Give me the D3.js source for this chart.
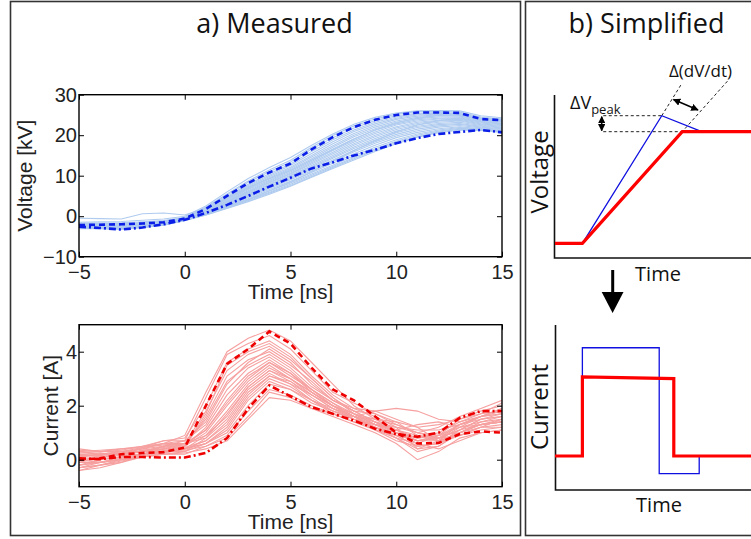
<!DOCTYPE html>
<html><head><meta charset="utf-8">
<script src="https://cdn.jsdelivr.net/npm/d3@7"></script>
<style>
body{margin:0;background:#fff;}
svg{display:block;}
.tick text{font-family:"Liberation Sans",Arial,sans-serif;font-size:20px;fill:#222;}
.domain{display:none;}
.tick line{stroke:#000;stroke-width:1;}
</style></head>
<body><svg id="c" width="751" height="539"></svg>
<script>
// ---------------- DATA ----------------
const time = [-5,-4,-3,-2,-1,0,1,2,3,4,5,6,7,8,9,10,11,12,13,14,15];
const timeTicks = [-5,0,5,10,15];
const voltTicks = [-10,0,10,20,30];
const currTicks = [0,2,4];

const voltUpper = [-2.2,-2.1,-2.0,-1.8,-1.5,-0.6,1.8,5.0,8.2,10.8,13.0,16.5,19.5,22.0,23.8,25.0,25.6,25.6,25.5,24.0,23.7];
const voltLower = [-2.6,-2.9,-3.3,-2.8,-2.0,-0.9,0.8,2.8,5.0,7.3,9.5,11.8,13.3,15.0,16.4,18.0,19.3,20.3,20.8,21.3,20.7];
const voltRuns = [
 [-1.5,-1.4,-1.3,-1.0,-0.7,0.0,2.5,6.0,9.3,12.0,14.5,17.5,20.3,22.7,24.4,25.5,26.0,26.1,26.0,24.8,24.3],
 [-1.8,-1.7,-1.6,-1.4,-1.1,-0.3,2.2,5.5,8.7,11.4,13.8,17.0,19.9,22.3,24.0,25.2,25.8,25.9,25.7,24.5,24.0],
 [-2.0,-1.9,-1.8,-1.6,-1.3,-0.5,2.0,5.2,8.4,11.0,13.4,16.6,19.4,21.8,23.6,24.8,25.4,25.6,25.4,24.3,23.9],
 [-1.7,-1.8,-1.9,-1.7,-1.2,-0.4,1.9,4.9,7.9,10.5,12.9,16.0,18.9,21.3,23.2,24.5,25.2,25.4,25.3,24.2,23.8],
 [-2.3,-2.2,-2.1,-1.9,-1.5,-0.6,1.6,4.6,7.6,10.1,12.5,15.5,18.4,20.9,22.8,24.2,25.0,25.2,25.1,24.0,23.6],
 [-0.5,-0.6,-0.7,0.6,0.8,0.3,2.0,4.5,7.3,9.8,12.1,15.0,17.9,20.4,22.4,23.9,24.7,25.0,24.9,23.9,23.5],
 [-2.5,-2.4,-2.3,-2.0,-1.6,-0.7,1.4,4.3,7.0,9.5,11.8,14.6,17.4,20.0,22.0,23.5,24.4,24.8,24.7,23.8,23.4],
 [-2.1,-2.2,-2.3,-2.1,-1.7,-0.7,1.3,4.1,6.8,9.2,11.5,14.2,17.0,19.6,21.6,23.2,24.1,24.5,24.5,23.6,23.2],
 [-2.8,-2.7,-2.5,-2.2,-1.8,-0.8,1.2,3.9,6.6,8.9,11.2,13.9,16.6,19.1,21.2,22.8,23.8,24.2,24.3,23.4,23.0],
 [-2.4,-2.5,-2.6,-2.3,-1.8,-0.8,1.1,3.7,6.3,8.6,10.9,13.5,16.2,18.7,20.8,22.5,23.5,24.0,24.1,23.2,22.8],
 [-2.6,-2.6,-2.7,-2.4,-1.9,-0.8,1.0,3.6,6.1,8.4,10.6,13.2,15.8,18.3,20.4,22.1,23.2,23.7,23.9,23.0,22.6],
 [-2.2,-2.3,-2.4,-2.2,-1.8,-0.7,1.0,3.5,5.9,8.2,10.4,12.9,15.4,17.9,20.0,21.8,22.9,23.5,23.7,22.8,22.4],
 [-2.9,-2.8,-2.8,-2.5,-2.0,-0.9,0.9,3.3,5.7,7.9,10.1,12.5,15.0,17.5,19.6,21.4,22.6,23.2,23.5,22.6,22.2],
 [-2.7,-2.8,-3.0,-2.6,-2.0,-0.9,0.9,3.2,5.5,7.7,9.9,12.2,14.6,17.1,19.2,21.0,22.2,22.9,23.2,22.4,22.0],
 [-2.3,-2.4,-2.5,-2.3,-1.9,-0.8,0.8,3.0,5.3,7.4,9.6,11.9,14.3,16.7,18.8,20.6,21.9,22.6,22.9,22.2,21.8],
 [-3.0,-3.0,-3.1,-2.7,-2.1,-1.0,0.7,2.9,5.1,7.2,9.3,11.6,13.9,16.3,18.4,20.2,21.5,22.3,22.7,22.0,21.6],
 [-2.5,-2.7,-2.9,-2.6,-2.0,-0.9,0.6,2.7,4.9,6.9,9.0,11.2,13.5,15.9,18.0,19.8,21.1,22.0,22.4,21.8,21.4],
 [-2.8,-2.9,-3.1,-2.7,-2.1,-1.0,0.5,2.5,4.6,6.6,8.6,10.8,13.1,15.4,17.5,19.4,20.7,21.6,22.1,21.6,21.2],
 [-2.4,-2.6,-2.8,-2.5,-2.0,-0.9,0.5,2.4,4.3,6.2,8.2,10.4,12.6,14.9,17.0,18.9,20.3,21.3,21.9,21.5,21.0],
 [-3.1,-3.1,-3.2,-2.8,-2.2,-1.0,0.4,2.2,4.0,5.9,7.9,10.1,12.3,14.5,16.6,18.5,20.0,21.0,21.7,21.4,20.9],
 [-2.7,-2.8,-3.0,-2.7,-2.1,-1.0,0.3,2.0,3.8,5.7,7.6,9.8,12.0,14.2,16.3,18.2,19.7,20.8,21.5,21.3,20.8],
 [-2.9,-3.0,-3.2,-2.8,-2.2,-1.1,0.3,1.9,3.6,5.4,7.4,9.6,11.8,13.9,16.0,17.9,19.5,20.6,21.3,21.2,20.7],
 [-2.6,-2.7,-2.9,-2.6,-2.0,-0.9,0.6,2.3,4.1,6.3,8.4,11.0,13.6,16.2,18.6,20.8,22.5,23.6,24.2,23.4,22.9],
 [-2.0,-2.1,-2.2,-2.0,-1.6,-0.6,1.5,4.4,7.1,9.3,11.3,13.8,16.4,19.0,21.3,23.0,24.2,24.9,25.1,24.1,23.7]
];

const currUpper = [0.0,0.05,0.2,0.25,0.28,0.45,2.0,3.55,4.1,4.75,4.3,3.4,2.6,2.2,1.6,1.0,0.6,0.62,0.95,1.05,1.0];
const currLower = [0.05,0.02,0.1,0.1,0.08,0.08,0.25,0.8,1.9,2.75,2.35,1.95,1.7,1.45,1.15,0.95,0.85,1.0,1.55,1.8,1.8];
const currRuns = [
 [0.3,0.35,0.4,0.45,0.6,0.9,2.5,4.0,4.5,4.8,4.4,3.6,2.8,2.0,1.5,1.1,0.7,0.8,1.3,1.6,1.9],
 [-0.1,0.1,0.2,0.3,0.5,0.7,2.3,3.9,4.3,4.6,4.1,3.3,2.5,2.1,1.7,1.3,1.0,0.9,1.0,1.4,1.6],
 [0.2,0.25,0.15,0.45,0.7,0.8,2.0,3.6,4.1,4.4,3.9,3.1,2.4,1.9,1.8,1.5,1.2,0.7,0.9,1.2,1.5],
 [-0.3,-0.2,0.0,0.2,0.4,0.6,1.8,3.3,3.9,4.2,3.7,3.0,2.3,1.7,1.3,0.9,0.5,0.6,1.1,1.5,1.7],
 [0.1,0.2,0.3,0.3,0.3,0.5,1.6,3.1,3.7,4.0,3.5,2.9,2.2,1.8,1.4,1.1,0.8,1.0,1.4,1.7,1.8],
 [-0.4,-0.2,-0.1,0.2,0.5,0.6,1.5,2.9,3.5,3.9,3.4,2.7,2.2,1.9,1.6,1.2,0.4,0.5,1.0,1.3,1.4],
 [0.4,0.3,0.35,0.5,0.7,0.7,1.3,2.6,3.4,3.8,3.3,2.6,2.1,1.6,1.2,0.8,0.6,0.9,1.5,1.8,2.0],
 [0.0,0.1,0.1,0.2,0.4,0.5,1.2,2.4,3.2,3.7,3.2,2.5,2.0,1.7,1.5,1.3,1.0,0.8,0.9,1.1,1.2],
 [-0.2,0.0,0.1,0.35,0.45,0.55,1.1,2.2,3.1,3.6,3.1,2.6,2.1,1.7,1.3,1.0,0.7,0.7,1.2,1.4,1.5],
 [0.2,0.1,0.2,0.3,0.5,0.5,1.0,2.0,2.9,3.5,3.0,2.4,1.9,1.6,1.4,1.2,1.1,1.1,1.3,1.6,1.9],
 [-0.1,-0.1,0.0,0.1,0.3,0.4,0.9,1.8,2.8,3.4,3.0,2.5,2.0,1.5,1.1,0.7,0.5,0.6,0.9,1.2,1.3],
 [0.3,0.2,0.3,0.4,0.6,0.6,0.9,1.6,2.7,3.3,2.9,2.3,1.8,1.5,1.3,1.1,0.9,0.8,1.1,1.5,1.6],
 [-0.3,-0.1,0.1,0.2,0.3,0.3,0.8,1.5,2.6,3.2,2.8,2.2,1.8,1.6,1.5,1.4,1.2,1.3,1.5,1.7,2.1],
 [0.1,0.2,0.2,0.35,0.4,0.45,0.7,1.3,2.4,3.1,2.8,2.4,2.0,1.7,1.4,1.0,0.6,0.4,0.7,1.0,1.1],
 [0.0,0.0,0.1,0.2,0.3,0.4,0.6,1.2,2.3,3.0,2.7,2.2,1.7,1.4,1.2,1.0,0.8,0.9,1.2,1.6,1.7],
 [-0.2,-0.1,0.0,0.1,0.2,0.3,0.6,1.1,2.2,2.9,2.6,2.1,1.8,1.5,1.3,1.2,1.0,1.2,1.6,1.9,2.2],
 [0.2,0.15,0.25,0.3,0.4,0.4,0.6,1.0,2.0,2.8,2.6,2.2,1.9,1.6,1.2,0.8,0.3,0.5,1.0,1.3,1.4],
 [-0.4,-0.3,-0.1,0.1,0.2,0.2,0.5,0.9,1.8,2.6,2.4,2.0,1.7,1.4,1.1,0.9,0.7,0.8,1.1,1.3,1.4],
 [0.1,0.1,0.2,0.2,0.35,0.35,0.5,0.8,1.6,2.5,2.3,1.9,1.7,1.6,1.8,1.9,1.8,1.5,1.4,1.6,1.8],
 [0.0,-0.1,0.0,0.1,0.2,0.25,0.4,0.7,1.5,2.3,2.2,1.9,1.6,1.3,1.0,0.6,0.0,0.3,0.8,1.0,1.1],
 [0.25,0.3,0.4,0.5,0.6,0.7,1.4,2.8,3.6,4.1,3.6,2.8,2.2,1.8,1.7,1.4,0.9,0.7,1.0,1.3,1.5],
 [-0.2,-0.1,0.05,0.15,0.3,0.5,1.7,3.5,4.0,4.3,3.8,3.0,2.3,1.8,1.4,1.0,0.7,0.9,1.3,1.5,1.6],
 [0.15,0.2,0.25,0.4,0.5,0.6,1.1,2.1,3.0,3.6,3.2,2.6,2.0,1.6,1.3,1.1,1.3,1.4,1.2,1.3,1.4],
 [-0.3,-0.2,-0.05,0.1,0.25,0.4,0.7,1.4,2.5,3.1,2.9,2.4,1.9,1.5,1.2,0.9,0.5,0.6,1.0,1.2,1.2],
 [0.35,0.3,0.3,0.45,0.55,0.6,0.8,1.7,2.7,3.3,3.0,2.5,2.0,1.6,1.1,0.8,0.4,0.7,1.3,1.6,1.7]
];

// simplified schematic (arbitrary units 0..100)
const simpVoltRedT = [0, 13.9, 64.6, 100];
const simpVoltRedV = [9, 9, 77.5, 77.5];
const simpVoltBlueT = [13.9, 54.2, 74.5];
const simpVoltBlueV = [9, 87.3, 77.5];
const simpCurrRedT = [0, 13.9, 13.9, 60.3, 60.3, 100];
const simpCurrRedI = [20.6, 20.6, 68.5, 67.5, 20.6, 20.6];
const simpCurrBlueT = [13.9, 13.9, 52.9, 52.9, 73.2, 73.2];
const simpCurrBlueI = [20.6, 86.2, 86.2, 9.9, 9.9, 20.6];

// ---------------- DRAW ----------------
const svg = d3.select("#c");
const LIGHTBLUE = "#afcbef", DARKBLUE = "#0a1ee8", LIGHTRED = "#f6a0a0", RED = "#ee0000";
const sans = '"Liberation Sans",Arial,sans-serif';
const myriad = '"Open Sans","Noto Sans",sans-serif';

// panel frames
svg.append("rect").attr("x",10.5).attr("y",1.5).attr("width",510).attr("height",534)
  .attr("fill","none").attr("stroke","#333").attr("stroke-width",1.6);
svg.append("rect").attr("x",525.5).attr("y",1.5).attr("width",240).attr("height",534)
  .attr("fill","none").attr("stroke","#333").attr("stroke-width",1.6);

svg.append("text").attr("x",274.5).attr("y",33).attr("text-anchor","middle")
  .style("font-family",myriad).style("font-size","27px").attr("fill","#111").text("a) Measured");
svg.append("text").attr("x",646.5).attr("y",33).attr("text-anchor","middle")
  .style("font-family",myriad).style("font-size","27px").attr("fill","#111").text("b) Simplified");

const x = d3.scaleLinear().domain([-5,15]).range([79,502]);
const fmt = d3.format("d");

function panel(id, top, bottom, yDomain, yTicks, yLabel, labelX, runs, upper, lower, light, dark){
  const y = d3.scaleLinear().domain(yDomain).range([bottom, top]);
  const g = svg.append("g");
  g.append("clipPath").attr("id",id).append("rect")
    .attr("x",79).attr("y",top).attr("width",423).attr("height",bottom-top);
  const line = d3.line().x((d,i)=>x(time[i])).y(d=>y(d));
  const lg = g.append("g").attr("clip-path",`url(#${id})`);
  lg.selectAll("path.run").data(runs).join("path").attr("class","run")
    .attr("d",line).attr("fill","none").attr("stroke",light).attr("stroke-width",1.1);
  lg.append("path").attr("d",line(upper)).attr("fill","none").attr("stroke",dark)
    .attr("stroke-width",2.6).attr("stroke-dasharray","6,4");
  lg.append("path").attr("d",line(lower)).attr("fill","none").attr("stroke",dark)
    .attr("stroke-width",2.6).attr("stroke-dasharray","7,3,2,3");
  // axes with inward ticks
  g.append("g").attr("transform",`translate(0,${bottom})`)
    .call(d3.axisBottom(x).tickValues(timeTicks).tickFormat(fmt).tickSize(-5).tickPadding(8));
  g.append("g").attr("transform",`translate(0,${top})`)
    .call(d3.axisTop(x).tickValues(timeTicks).tickSize(-5).tickFormat(""));
  g.append("g").attr("transform",`translate(79,0)`)
    .call(d3.axisLeft(y).tickValues(yTicks).tickFormat(fmt).tickSize(-5).tickPadding(2));
  g.append("g").attr("transform",`translate(502,0)`)
    .call(d3.axisRight(y).tickValues(yTicks).tickSize(-5).tickFormat(""));
  g.append("rect").attr("x",79).attr("y",top).attr("width",423).attr("height",bottom-top)
    .attr("fill","none").attr("stroke","#000").attr("stroke-width",1.4);
  g.append("text").attr("x",290.5).attr("y",bottom+42).attr("text-anchor","middle")
    .style("font-family",sans).style("font-size","21px").attr("fill","#222").text("Time [ns]");
  g.append("text").attr("transform",`translate(${labelX},${(top+bottom)/2}) rotate(-90)`)
    .attr("text-anchor","middle").attr("dy","0.35em")
    .style("font-family",sans).style("font-size","21px").attr("fill","#222").text(yLabel);
}
panel("clipV", 94.7, 256.7, [-10,30], voltTicks, "Voltage [kV]", 25, voltRuns, voltUpper, voltLower, LIGHTBLUE, DARKBLUE);
panel("clipI", 324.7, 486.7, [-1,5], currTicks, "Current [A]", 51, currRuns, currUpper, currLower, LIGHTRED, RED);

// ---------------- SIMPLIFIED ----------------
const sx = d3.scaleLinear().domain([0,100]).range([555,752]);
const syV = d3.scaleLinear().domain([0,100]).range([258,95]);
const syI = d3.scaleLinear().domain([0,100]).range([490,325]);
const sl = (ys, ts, yS) => d3.line().x((d,i)=>sx(ts[i])).y(d=>yS(d))(ys);

// axes
svg.append("path").attr("d",`M${sx(0)-0.5},${syV(100)}V${syV(0)}H752`).attr("fill","none").attr("stroke","#111").attr("stroke-width",1.6);
svg.append("path").attr("d",`M${sx(0)+0.5},${syI(100)}V${syI(0)}H752`).attr("fill","none").attr("stroke","#111").attr("stroke-width",1.6);

// annotation dashed lines (in schematic units)
const dash = "3,2.5";
const ann = svg.append("g").attr("fill","none").attr("stroke","#222").attr("stroke-width",1).attr("stroke-dasharray",dash);
const pk = [simpVoltBlueT[1], simpVoltBlueV[1]];
const kn = [simpVoltRedT[2], simpVoltRedV[2]];
const st = [simpVoltRedT[1], simpVoltRedV[1]];
ann.append("line").attr("x1",sx(24.5)).attr("y1",syV(pk[1])).attr("x2",sx(pk[0])).attr("y2",syV(pk[1]));
ann.append("line").attr("x1",sx(24.5)).attr("y1",syV(kn[1])).attr("x2",sx(73)).attr("y2",syV(kn[1]));
const bSlope = (pk[0]-st[0])/(pk[1]-st[1]);
const bTopV = 107;
ann.append("line").attr("x1",sx(pk[0])).attr("y1",syV(pk[1])).attr("x2",sx(pk[0]+bSlope*(bTopV-pk[1]))).attr("y2",syV(bTopV));
const rSlope = (kn[0]-st[0])/(kn[1]-st[1]);
const rTopV = 109;
ann.append("line").attr("x1",sx(st[0])).attr("y1",syV(st[1])).attr("x2",sx(kn[0]+rSlope*(rTopV-kn[1]))).attr("y2",syV(rTopV));

// schematic curves
svg.append("path").attr("d",sl(simpVoltBlueV, simpVoltBlueT, syV)).attr("fill","none").attr("stroke","#1010e0").attr("stroke-width",1.3);
svg.append("path").attr("d",sl(simpVoltRedV, simpVoltRedT, syV)).attr("fill","none").attr("stroke","#f00").attr("stroke-width",3.2);
svg.append("path").attr("d",sl(simpCurrBlueI, simpCurrBlueT, syI)).attr("fill","none").attr("stroke","#1010e0").attr("stroke-width",1.3);
svg.append("path").attr("d",sl(simpCurrRedI, simpCurrRedT, syI)).attr("fill","none").attr("stroke","#f00").attr("stroke-width",3.2);

// arrows
const defs = svg.append("defs");
defs.append("marker").attr("id","ah").attr("viewBox","0 0 10 10").attr("refX",9).attr("refY",5)
  .attr("markerWidth",5).attr("markerHeight",5).attr("orient","auto-start-reverse")
  .append("path").attr("d","M0,0L10,5L0,10Z").attr("fill","#000");
svg.append("line").attr("x1",601.7).attr("y1",syV(pk[1])+1).attr("x2",601.7).attr("y2",syV(kn[1])-1)
  .attr("stroke","#000").attr("stroke-width",1.5).attr("marker-start","url(#ah)").attr("marker-end","url(#ah)");
svg.append("line").attr("x1",673.5).attr("y1",99.5).attr("x2",698).attr("y2",110)
  .attr("stroke","#000").attr("stroke-width",1.5).attr("marker-start","url(#ah)").attr("marker-end","url(#ah)");

// big down arrow
svg.append("line").attr("x1",612.7).attr("y1",270).attr("x2",612.7).attr("y2",296).attr("stroke","#000").attr("stroke-width",3);
svg.append("path").attr("d","M601.7,292L623.5,292L612.6,313Z").attr("fill","#000");

// labels
const lab = (t,xx,yy,fs,rot)=>svg.append("text").attr("transform",`translate(${xx},${yy})${rot?" rotate(-90)":""}`)
  .attr("text-anchor","middle").style("font-family",myriad).style("font-size",fs+"px").attr("fill","#111").text(t);
lab("Voltage",548,172,24,true);
lab("Current",548,407,24,true);
lab("Time",658,281,20,false);
lab("Time",659,512,20,false);
lab("Δ(dV/dt)",700.5,77,17,false);
const dv = svg.append("text").attr("x",570).attr("y",109).style("font-family",myriad).style("font-size","18px").attr("fill","#111");
dv.append("tspan").text("ΔV");
dv.append("tspan").attr("dy",5).style("font-size","13px").text("peak");
</script></body></html>
